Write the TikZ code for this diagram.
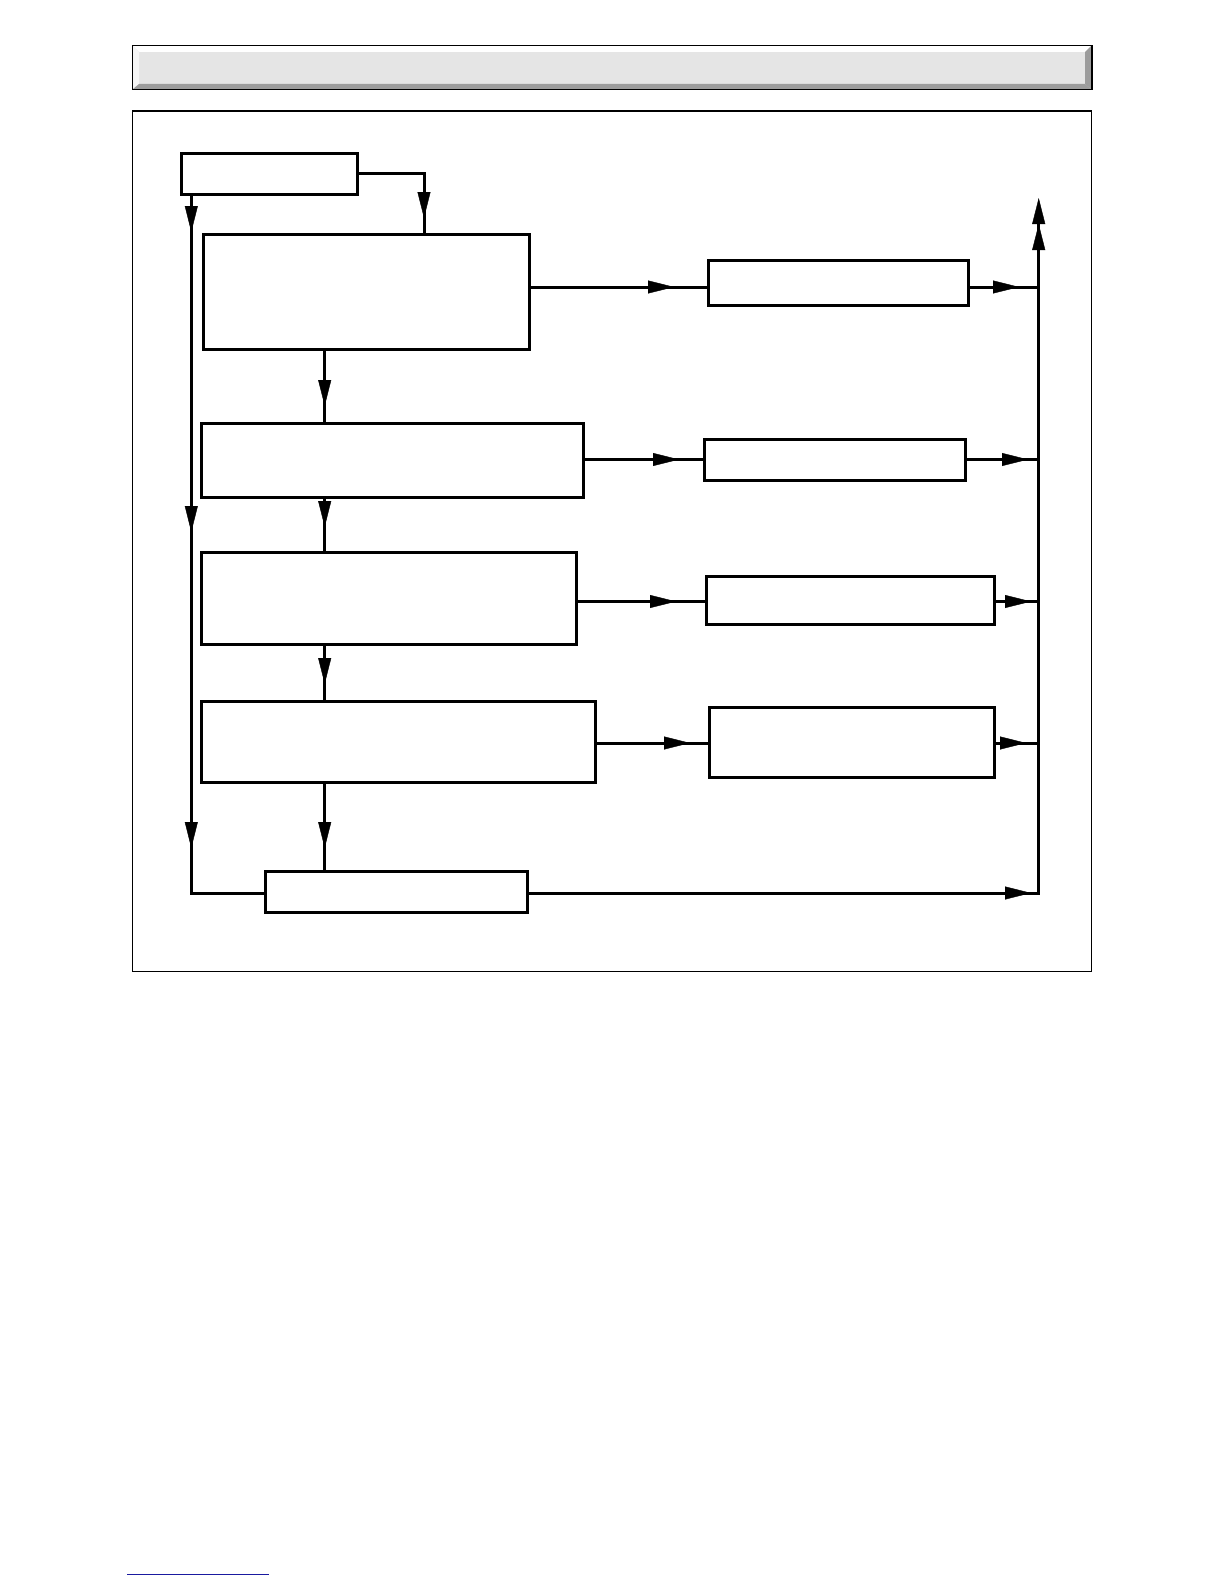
\documentclass[tikz,border=0pt]{standalone}
\usetikzlibrary{arrows.meta,decorations.markings}
\definecolor{barface}{HTML}{E5E5E5}
\definecolor{bardark}{HTML}{9C9C9C}
\definecolor{barlight}{HTML}{F6F6F6}
\definecolor{linkblue}{HTML}{1A1AA0}
\begin{document}
\begin{tikzpicture}[x=1pt,y=-1pt,
  box/.style={draw,line width=3pt,inner sep=0pt,outer sep=0pt,fill=white,anchor=north west},
  conn/.style={line width=3pt,line cap=rect},
  tipat/.style={postaction={decorate,decoration={markings,mark=at position #1 with {\arrow{Triangle[length=26pt,width=13pt,line width=0.4pt]}}}}}]
\useasboundingbox (0,0) rectangle (1224,1584);
% title bar
\fill[barface] (132.5,45.5) rectangle (1092,89.5);
\fill[white] (133,46) -- (1091,46) -- (1085,52) -- (139,52) -- cycle;
\fill[barlight] (133,46) -- (139,52) -- (139,84) -- (133,89) -- cycle;
\fill[bardark] (133,89) -- (139,84) -- (1085,84) -- (1091,89) -- cycle;
\fill[bardark] (1091,46) -- (1085,52) -- (1085,84) -- (1091,89) -- cycle;
\draw[line width=1.3pt] (132.5,45.5) rectangle (1092,89.5);
% frame
\draw[line width=1.2pt] (132.3,111) rectangle (1091.7,971.6);
% boxes
\node[box,minimum width=176pt,minimum height=41pt] (A) at (181,153) {};
\node[box,minimum width=326pt,minimum height=115pt] (B) at (203,234) {};
\node[box,minimum width=382pt,minimum height=74pt] (C) at (201,423) {};
\node[box,minimum width=375pt,minimum height=92pt] (D) at (201,552) {};
\node[box,minimum width=394pt,minimum height=81pt] (E) at (201,701) {};
\node[box,minimum width=262pt,minimum height=41pt] (F) at (265,871) {};
\node[box,minimum width=260pt,minimum height=45pt] (R1) at (708,260) {};
\node[box,minimum width=261pt,minimum height=41pt] (R2) at (704,439) {};
\node[box,minimum width=288pt,minimum height=48pt] (R3) at (706,576) {};
\node[box,minimum width=285pt,minimum height=70pt] (R4) at (709,707) {};
\coordinate (vb) at (1038.7,893);
\coordinate (vt) at (1038.7,198);
% left trunk
\draw[conn,tipat=38pt,tipat=338pt,tipat=654pt] ([xshift=10.3pt]A.south west) |- (F.west |- vb);
\draw[conn,tipat=-16pt] (A.east) -| (B.north -| 424,0);
% middle chain
\draw[conn,tipat=57pt] (B.south -| 324.7,0) -- (C.north -| 324.7,0);
\draw[conn,tipat=30pt] (C.south -| 324.7,0) -- (D.north -| 324.7,0);
\draw[conn,tipat=40pt] (D.south -| 324.7,0) -- (E.north -| 324.7,0);
\draw[conn,tipat=66pt] (E.south -| 324.7,0) -- (F.north -| 324.7,0);
% to right boxes
\draw[conn,tipat=145pt] (B.east |- 0,287) -- (R1.west |- 0,287);
\draw[conn,tipat=96pt] (C.east |- 0,459.5) -- (R2.west |- 0,459.5);
\draw[conn,tipat=100pt] (D.east |- 0,601.5) -- (R3.west |- 0,601.5);
\draw[conn,tipat=95pt] (E.east |- 0,743) -- (R4.west |- 0,743);
% to bus
\draw[conn,tipat=51pt] (R1.east |- 0,287) -- (vb |- 0,287);
\draw[conn,tipat=63pt] (R2.east |- 0,459.5) -- (vb |- 0,459.5);
\draw[conn,tipat=37pt] (R3.east |- 0,601.5) -- (vb |- 0,601.5);
\draw[conn,tipat=32pt] (R4.east |- 0,743) -- (vb |- 0,743);
\draw[conn,tipat=504pt] (F.east |- vb) -- (vb);
\draw[conn,-{Triangle[length=26pt,width=13pt,line width=0.4pt]Triangle[length=26pt,width=13pt,line width=0.4pt]}] (vb) -- (vt);
% link underline
\draw[linkblue,line width=1pt] (127.3,1574.3) -- (269,1574.3);
\end{tikzpicture}
\end{document}
